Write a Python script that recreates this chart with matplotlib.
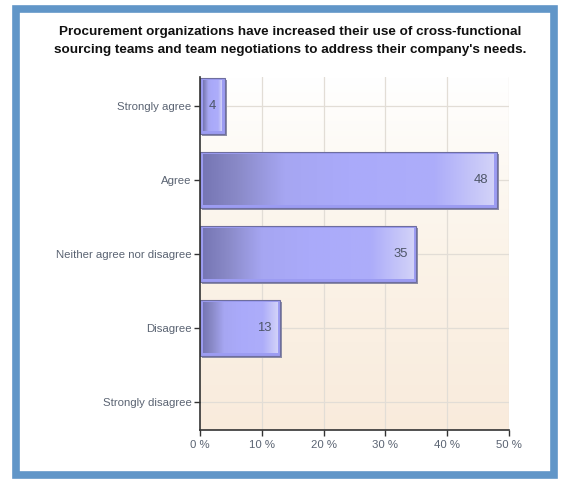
import numpy as np
import matplotlib
matplotlib.use("Agg")
import matplotlib.pyplot as plt
from matplotlib.patches import Rectangle
from matplotlib.colors import LinearSegmentedColormap
import matplotlib.transforms as mtransforms

plt.rcParams['font.family'] = ['Liberation Sans', 'DejaVu Sans']

title = ("Procurement organizations have increased their use of cross-functional\n"
         "sourcing teams and team negotiations to address their company's needs.")
categories = ["Strongly agree", "Agree", "Neither agree nor disagree",
              "Disagree", "Strongly disagree"]
values = [4, 48, 35, 13, 0]
xticks = [0, 10, 20, 30, 40, 50]
xticklabels = ["0 %", "10 %", "20 %", "30 %", "40 %", "50 %"]

W, H = 563, 479
fig = plt.figure(figsize=(W / 100, H / 100), dpi=100)
fig.patch.set_facecolor("white")

# blue frame around the panel
frame = Rectangle((15.5 / W, 1 - 474.5 / H), 538 / W, 466 / H,
                  transform=fig.transFigure, facecolor="white",
                  edgecolor="#6196C8", linewidth=5.5, zorder=0)
fig.patches.append(frame)

fig.text(290 / W, 1 - 41 / H, title, ha="center", va="center",
         fontsize=9.7, fontweight="bold", color="#111111",
         linespacing=1.65, zorder=2)

left, right, top, bottom = 200, 509, 77, 430
ax = fig.add_axes([left / W, 1 - bottom / H, (right - left) / W, (bottom - top) / H])
ax.set_zorder(2)

ypos = np.arange(len(categories))
ylo, yhi = 4 + 28 / 74, -29 / 74
px_x = 50 / (right - left)      # data units per pixel, x
px_y = (ylo - yhi) / (bottom - top)  # data units per pixel, y

# background gradient: white to warm beige
bg = LinearSegmentedColormap.from_list("bg", ["#FFFFFF", "#FBF3E8", "#F9EBDC"])
grad = np.linspace(0, 1, 256).reshape(-1, 1)
ax.imshow(grad, cmap=bg, aspect="auto", extent=[0, 50, ylo, yhi],
          zorder=0, origin="upper")

for x in xticks[1:]:
    ax.axvline(x, color="#E2DDD6", linewidth=0.9, zorder=1)
for y in ypos:
    ax.axhline(y, color="#E2DDD6", linewidth=0.9, zorder=1)

barcmap = LinearSegmentedColormap.from_list(
    "bar", [(0, "#7676B4"), (0.12, "#8A8AC8"), (0.28, "#A6A6F2"),
            (0.5, "#AAAAFA"), (0.8, "#ADADFA"), (1.0, "#D2D2F8")])
hgrad = np.linspace(0, 1, 256).reshape(1, -1)
bh = 0.77
shadow = ax.transData + mtransforms.ScaledTranslation(2 / 100, -2 / 100, fig.dpi_scale_trans)
ins_x, ins_y = 3 * px_x, 3 * px_y
for y, v in zip(ypos, values):
    if v <= 0:
        continue
    y0 = y - bh / 2
    # drop shadow
    ax.add_patch(Rectangle((0, y0), v, bh, facecolor="#8E8EA6", edgecolor="none",
                           zorder=2, transform=shadow))
    # lavender rim with a thin dark outline
    ax.add_patch(Rectangle((0, y0), v, bh, facecolor="#9C9CF2",
                           edgecolor="#6E6E9E", linewidth=0.8, zorder=3))
    # shaded face
    ax.imshow(hgrad, cmap=barcmap, aspect="auto",
              extent=[ins_x, v - ins_x, y0 + bh - ins_y, y0 + ins_y],
              zorder=4, origin="upper")
    ax.annotate(f"{v}", xy=(v, y), xytext=(-6, 0), textcoords="offset points",
                ha="right", va="center", fontsize=9.4, color="#4E5668", zorder=5)

ax.set_xlim(0, 50)
ax.set_ylim(ylo, yhi)
ax.set_yticks(ypos)
ax.set_yticklabels(categories)
ax.set_xticks(xticks)
ax.set_xticklabels(xticklabels)
ax.tick_params(axis="both", colors="#333333", labelcolor="#5A6372", labelsize=8.2,
               length=4, width=1)
ax.tick_params(axis="y", pad=2)
ax.tick_params(axis="x", pad=3)
for s in ["top", "right"]:
    ax.spines[s].set_visible(False)
for s in ["left", "bottom"]:
    ax.spines[s].set_color("#333333")
    ax.spines[s].set_linewidth(1.2)
    ax.spines[s].set_zorder(6)

fig.savefig("out.png", dpi=100)
